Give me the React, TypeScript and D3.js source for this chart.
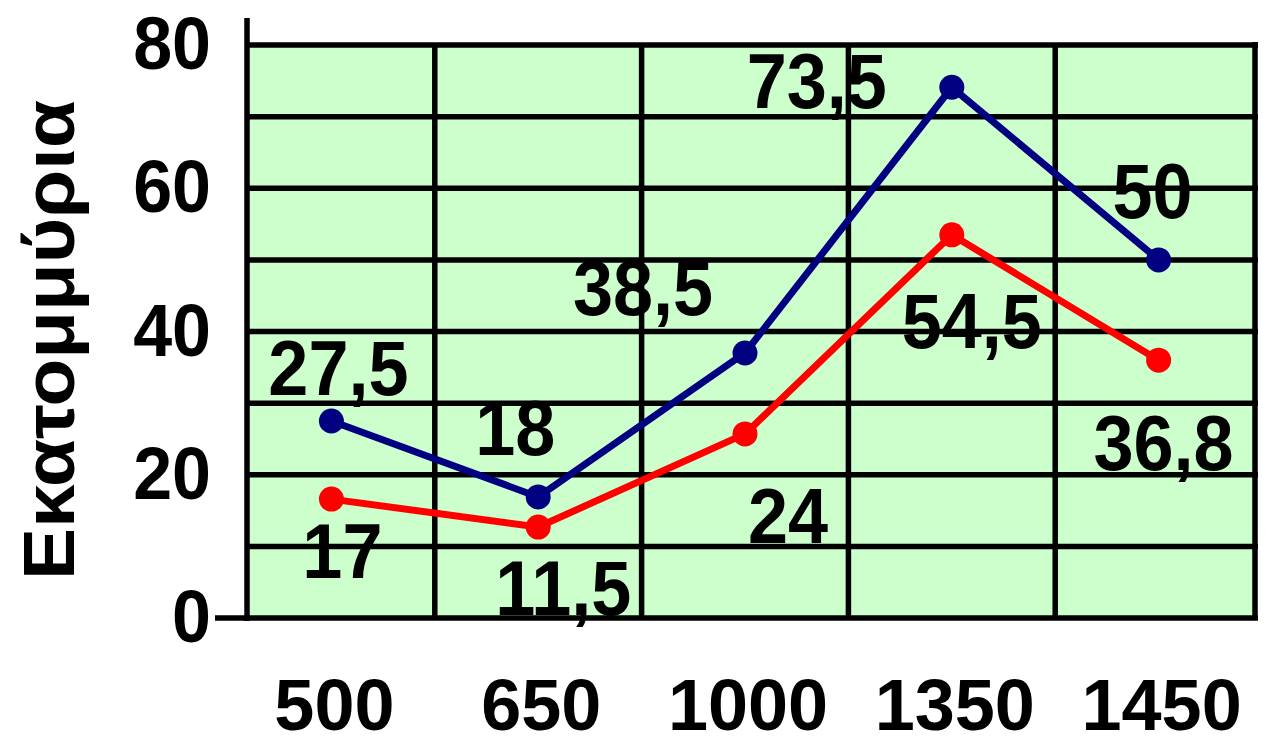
import React from 'react'
import * as d3 from 'd3'

const categories = ['500', '650', '1000', '1350', '1450']
const blueValues = [27.5, 16.9, 37.0, 74.1, 50.0]
const redValues = [16.6, 12.7, 25.7, 53.5, 36.0]
const blueLabels = ['27,5', '18', '38,5', '73,5', '50']
const redLabels = ['17', '11,5', '24', '54,5', '36,8']
const yTicks = [0, 20, 40, 60, 80]
const yGrid = [10, 20, 30, 40, 50, 60, 70, 80]
const yTitle = 'Εκατομμύρια'

// label placement relative to its point (layout only)
const blueOffsets = [[7, -26], [-23, -42], [-102, -38], [-135, 21], [-6, -42]]
const redOffsets = [[11, 79], [25, 88], [43, 109], [20, 113], [5, 110]]

const W = 1277
const H = 746
const plot = { left: 247, right: 1255, top: 45, bottom: 618 }
const FONT = '"Liberation Sans", Arial, sans-serif'

function Label({ x, y, text, size = 72, anchor = 'middle', sy = 1.07 }) {
  return (
    <text
      transform={'translate(' + x + ',' + y + ') scale(1,' + sy + ')'}
      textAnchor={anchor}
      fontFamily={FONT}
      fontWeight="bold"
      fontSize={size}
      fill="#000"
    >
      {text}
    </text>
  )
}

export default function App() {
  const x = d3.scaleBand().domain(categories).range([228, 1262])
  const y = d3.scaleLinear().domain([0, 80]).range([plot.bottom, plot.top])
  const cx = (c) => x(c) + x.bandwidth() / 2

  const line = d3.line()
    .x((d, i) => cx(categories[i]))
    .y((d) => y(d))

  const series = [
    { values: blueValues, labels: blueLabels, offsets: blueOffsets, color: '#000080' },
    { values: redValues, labels: redLabels, offsets: redOffsets, color: '#ff0000' },
  ]

  const vGrid = categories.slice(1).map((c) => x(c))

  return (
    <svg width={W} height={H} style={{ position: 'absolute', left: 0, top: 0 }}>
      <rect x={0} y={0} width={W} height={H} fill="#fff" />
      <rect
        x={plot.left}
        y={plot.top}
        width={plot.right - plot.left}
        height={plot.bottom - plot.top}
        fill="#ccffcc"
      />
      {/* grid */}
      {yGrid.map((v) => (
        <line key={'h' + v} x1={plot.left} x2={plot.right + 3} y1={y(v)} y2={y(v)}
          stroke="#000" strokeWidth={5.5} />
      ))}
      {vGrid.map((gx, i) => (
        <line key={'v' + i} x1={gx} x2={gx} y1={plot.top} y2={plot.bottom}
          stroke="#000" strokeWidth={5.5} />
      ))}
      <line x1={plot.right} x2={plot.right} y1={plot.top - 3} y2={plot.bottom}
        stroke="#000" strokeWidth={5.5} />
      {/* axes */}
      <line x1={plot.left} x2={plot.left} y1={18} y2={plot.bottom + 3}
        stroke="#000" strokeWidth={5.5} />
      <line x1={215} x2={plot.right + 3} y1={y(0)} y2={y(0)}
        stroke="#000" strokeWidth={5.5} />

      {/* series */}
      {series.map((s, si) => (
        <g key={'s' + si}>
          <path d={line(s.values)} fill="none" stroke={s.color} strokeWidth={7}
            strokeLinejoin="round" />
          {s.values.map((v, i) => (
            <circle key={i} cx={cx(categories[i])} cy={y(v)} r={12.5} fill={s.color} />
          ))}
        </g>
      ))}
      {series.map((s, si) => (
        <g key={'l' + si}>
          {s.values.map((v, i) => (
            <Label key={i}
              x={cx(categories[i]) + s.offsets[i][0]}
              y={y(v) + s.offsets[i][1]}
              text={s.labels[i]} />
          ))}
        </g>
      ))}

      {/* y ticks */}
      {yTicks.map((t) => (
        <Label key={'t' + t} x={211} y={y(t) + 24} text={String(t)} size={70} anchor="end" />
      ))}
      {/* x labels */}
      {categories.map((c) => (
        <Label key={'c' + c} x={cx(c) + 3} y={730} text={c} size={72} sy={1.0} />
      ))}
      {/* y title */}
      <text
        transform={'translate(74,340) rotate(-90)'}
        textAnchor="middle"
        fontFamily={FONT}
        fontWeight="bold"
        fontSize={72}
        textLength={480}
        lengthAdjust="spacingAndGlyphs"
      >
        {yTitle}
      </text>
    </svg>
  )
}
